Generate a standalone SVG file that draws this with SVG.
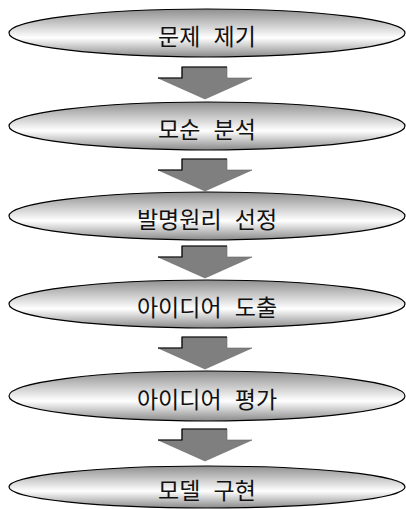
<svg xmlns="http://www.w3.org/2000/svg" width="406" height="509" viewBox="0 0 406 509">
  <defs>
    <linearGradient id="g" x1="0" y1="0" x2="0" y2="1">
      <stop offset="0" stop-color="#8f8f8f"/>
      <stop offset="0.6" stop-color="#ffffff"/>
      <stop offset="1" stop-color="#8a8a8a"/>
    </linearGradient>
    <path id="arrow" d="M-23,0 H22 V11 H47 L0,32 L-47,11 H-23 Z"/>
  </defs>
  <style>
    .node ellipse { fill: url(#g); stroke: #000; stroke-width: 1.2; }
    .node text { font-family: "Noto Sans CJK KR", "Noto Sans", sans-serif; font-size: 23px; word-spacing: 8px; fill: #111; text-anchor: middle; }
    .conn use { fill: #7f7f7f; stroke: #666; stroke-width: 0.6; }
    .conn .edge { fill: none; stroke: #000; stroke-width: 1.2; }
  </style>
  <rect width="406" height="509" fill="#fff"/>

  <g id="connectors" class="conn">
    <g transform="translate(205,67)"><use href="#arrow"/><path class="edge" d="M-47,11 H-23 V0 H22"/></g>
    <g transform="translate(205,159)"><use href="#arrow"/><path class="edge" d="M-47,11 H-23 V0 H22"/></g>
    <g transform="translate(205,246)"><use href="#arrow"/><path class="edge" d="M-47,11 H-23 V0 H22"/></g>
    <g transform="translate(205,337)"><use href="#arrow"/><path class="edge" d="M-47,11 H-23 V0 H22"/></g>
    <g transform="translate(205,429)"><use href="#arrow"/><path class="edge" d="M-47,11 H-23 V0 H22"/></g>
  </g>

  <g id="n1" class="node"><ellipse cx="207" cy="33" rx="198" ry="24"/><text x="207" y="45">문제 제기</text></g>
  <g id="n2" class="node"><ellipse cx="207" cy="126" rx="198" ry="24"/><text x="207" y="138">모순 분석</text></g>
  <g id="n3" class="node"><ellipse cx="207" cy="216" rx="198" ry="24"/><text x="207" y="228">발명원리 선정</text></g>
  <g id="n4" class="node"><ellipse cx="207" cy="304" rx="198" ry="24"/><text x="207" y="316">아이디어 도출</text></g>
  <g id="n5" class="node"><ellipse cx="207" cy="396" rx="198" ry="25"/><text x="207" y="408">아이디어 평가</text></g>
  <g id="n6" class="node"><ellipse cx="207" cy="487" rx="198" ry="21"/><text x="207" y="499">모델 구현</text></g>
</svg>
